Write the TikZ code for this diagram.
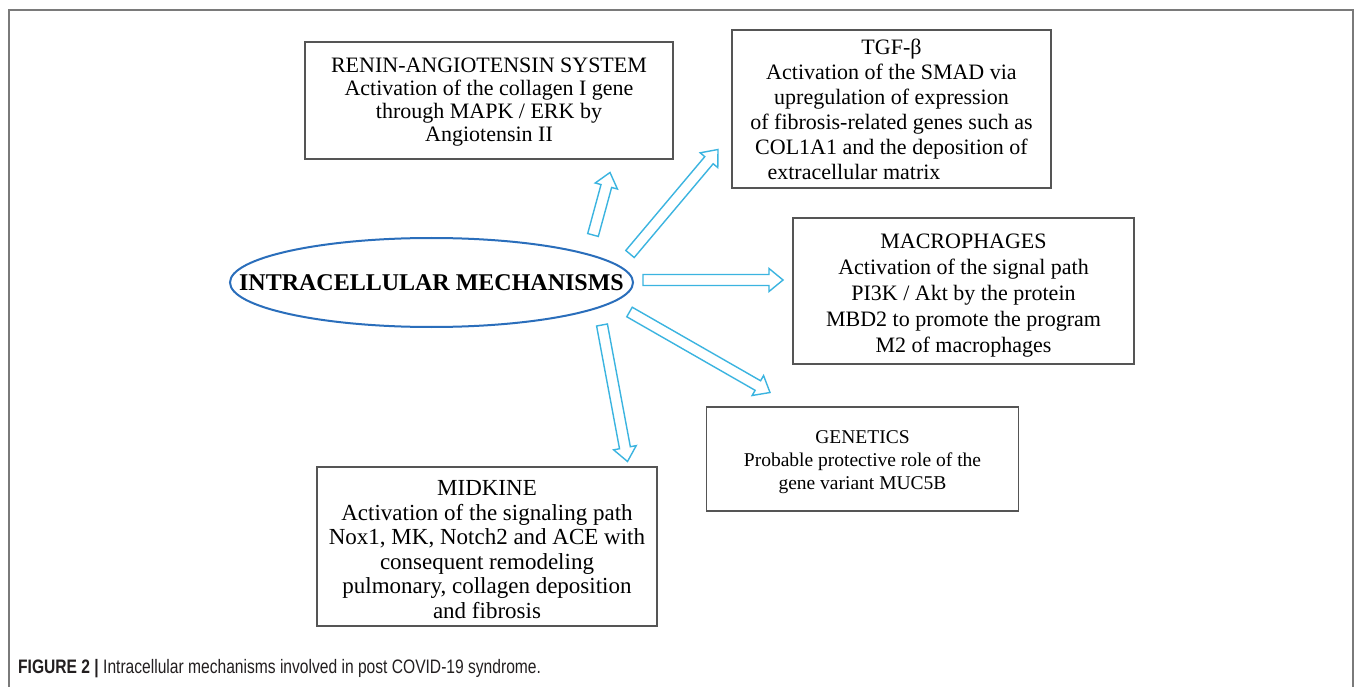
\documentclass[tikz,border=0pt]{standalone}
\usepackage{fontspec}
\setmainfont{Liberation Serif}
\newfontfamily\capfont[FakeStretch=0.8]{Liberation Sans}
\usetikzlibrary{shapes.geometric,calc}
\definecolor{arrowc}{HTML}{3BB4E0}
\definecolor{ellc}{HTML}{2A6EBB}
\definecolor{boxc}{HTML}{555555}
\definecolor{framec}{HTML}{7A7A7A}
\definecolor{captc}{HTML}{231F20}
\tikzset{
  infobox/.style={draw=boxc, line width=1.3pt, rectangle, inner sep=0pt},
  boxtext/.style={inner sep=0pt, align=center},
  blockarrow/.style={draw=arrowc, line width=1.4pt, line join=miter, fill=white},
}
\newcommand\hollowarrow[2]{%
  \coordinate (hb) at ($(#2)!14pt!(#1)$);
  \draw[blockarrow] ($(#1)!5.5pt!90:(#2)$) -- ($(hb)!5.5pt!90:(#2)$)
    -- ($(hb)!11.5pt!90:(#2)$) -- (#2) -- ($(hb)!11.5pt!-90:(#2)$)
    -- ($(hb)!5.5pt!-90:(#2)$) -- ($(#1)!5.5pt!-90:(#2)$) -- cycle;
}
\begin{document}
\begin{tikzpicture}[x=1pt,y=-1pt]
\useasboundingbox (0,0) rectangle (1355,687);
\fill[white] (0,0) rectangle (1355,687);
\draw[framec, line width=2pt] (9,687) -- (9,10) -- (1353,10) -- (1353,687);

\node[infobox, minimum width=368, minimum height=117] (renin) at (489,100.5) {};
\node[boxtext, font=\fontsize{22}{23}\selectfont] (renintext) at ($(renin.center)+(0,2)$)
  {RENIN-ANGIOTENSIN SYSTEM\\Activation of the collagen I gene\\through MAPK / ERK by\\Angiotensin II};
\node[infobox, minimum width=319, minimum height=158] (tgf) at (891.5,109) {};
\node[boxtext, font=\fontsize{22}{25}\selectfont] (tgftext) at (tgf.center)
  {TGF-β\\Activation of the SMAD via\\upregulation of expression\\of fibrosis-related genes such as\\COL1A1 and the deposition of\\extracellular matrix\hspace*{75pt}};
\node[infobox, minimum width=341, minimum height=146] (macro) at (963.5,291) {};
\node[boxtext, font=\fontsize{22}{26}\selectfont] (macrotext) at ($(macro.center)+(0,5)$)
  {MACROPHAGES\\Activation of the signal path\\PI3K / Akt by the protein\\MBD2 to promote the program\\M2 of macrophages};
\node[infobox, minimum width=312, minimum height=104] (gen) at (862.5,459) {};
\node[boxtext, font=\fontsize{19.5}{23}\selectfont] (gentext) at ($(gen.center)+(0,3)$)
  {GENETICS\\Probable protective role of the\\gene variant MUC5B};
\node[infobox, minimum width=340, minimum height=159] (mid) at (487,546.5) {};
\node[boxtext, font=\fontsize{23}{24.6}\selectfont] (midtext) at ($(mid.center)+(0,3)$)
  {MIDKINE\\Activation of the signaling path\\Nox1, MK, Notch2 and ACE with\\consequent remodeling\\pulmonary, collagen deposition\\and fibrosis};

\node[draw=ellc, line width=2pt, ellipse, minimum width=403, minimum height=89, inner sep=0pt,
  font=\bfseries\fontsize{24}{28}\selectfont] (mech) at (431.5,282.5) {\makebox[0pt]{INTRACELLULAR MECHANISMS}};

\coordinate (a1s) at (593,235);   \coordinate (a1e) at (610,172.5);
\coordinate (a2s) at (630,254);   \coordinate (a2e) at (718,149.5);
\coordinate (a3s) at (643,280);   \coordinate (a3e) at (783,280);
\coordinate (a4s) at (629.5,312); \coordinate (a4e) at (770,392.5);
\coordinate (a5s) at (602,325);   \coordinate (a5e) at (627.5,461.5);
\hollowarrow{a1s}{a1e}
\hollowarrow{a2s}{a2e}
\hollowarrow{a3s}{a3e}
\hollowarrow{a4s}{a4e}
\hollowarrow{a5s}{a5e}

\node[anchor=base west, inner sep=0pt, text=captc, font=\capfont\fontsize{19.5}{22}\selectfont] (cap) at (18,673)
  {\textbf{FIGURE 2 |} Intracellular mechanisms involved in post COVID-19 syndrome.};
\end{tikzpicture}
\end{document}
